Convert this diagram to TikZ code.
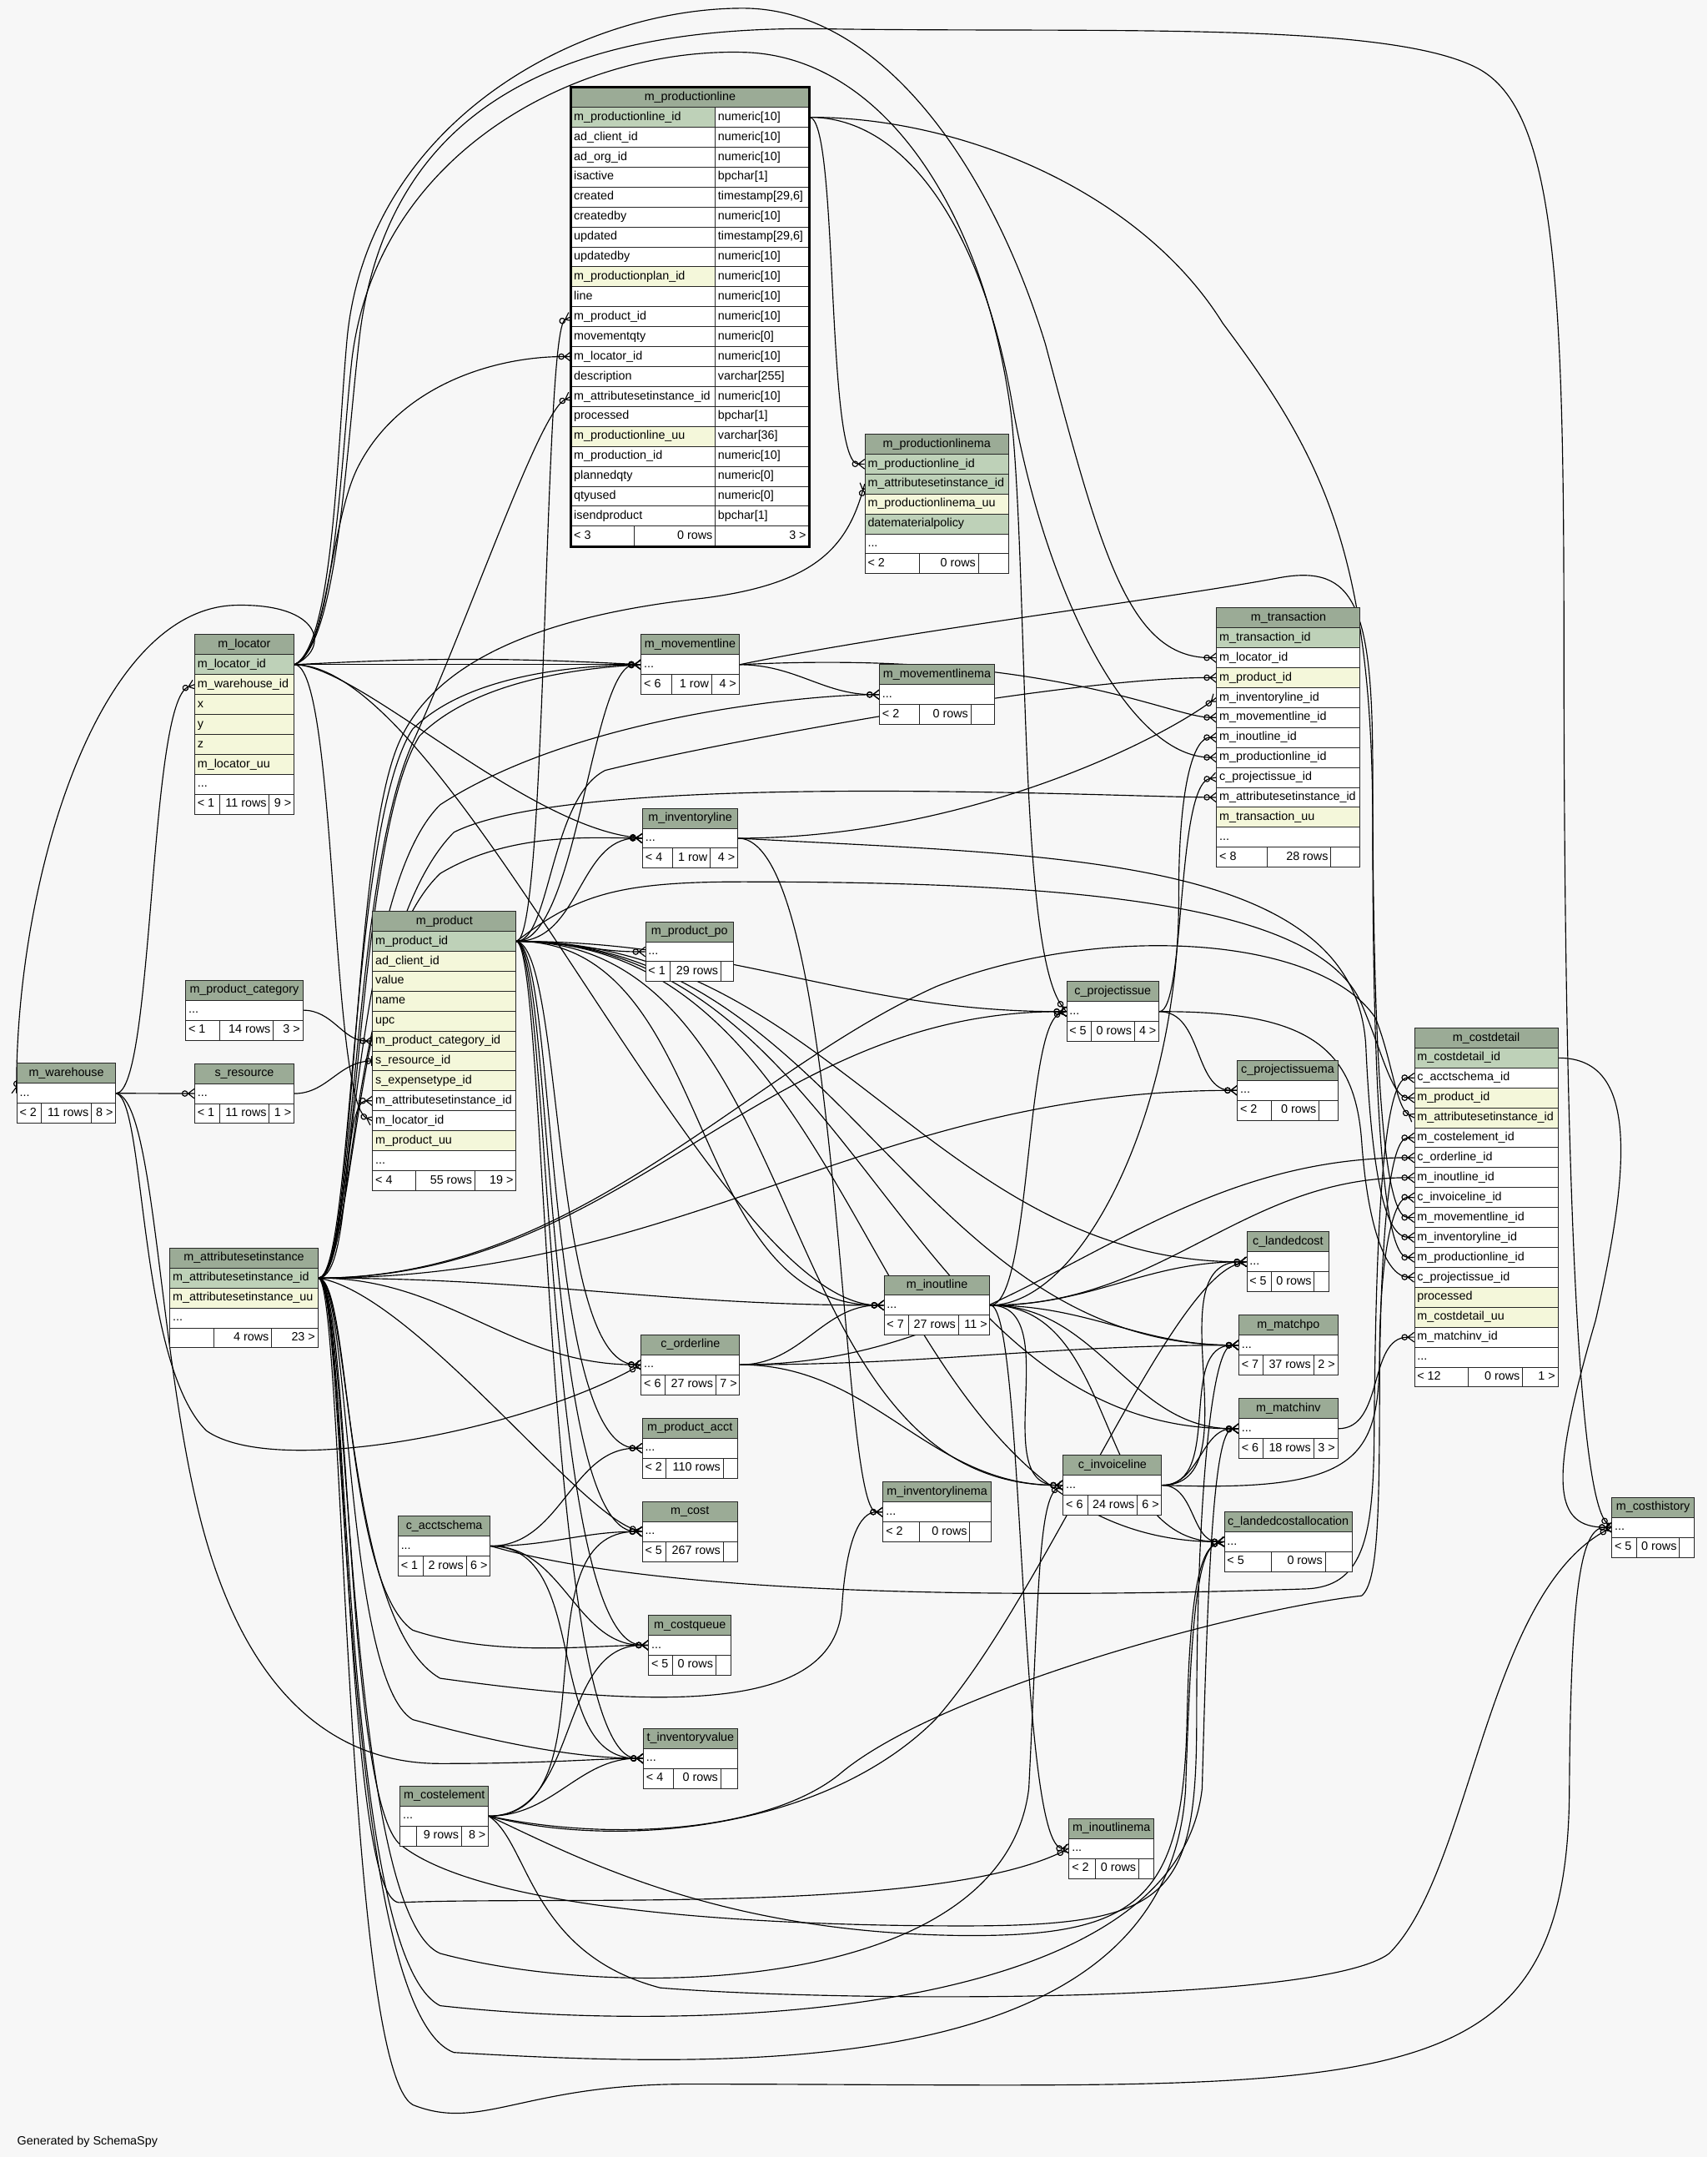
\documentclass[tikz,border=0pt]{standalone}
\usepackage{fontspec}
\setmainfont{Liberation Sans}
\usetikzlibrary{arrows.meta,backgrounds}
\definecolor{bg}{HTML}{F7F7F7}
\definecolor{hdr}{HTML}{9BAB96}
\definecolor{pk}{HTML}{BED1B8}
\definecolor{yl}{HTML}{F4F7DA}
\newcommand\elps{...}

\pgfdeclarearrow{
 name=Crow,
 defaults={length=4.6pt,width=7pt},
 parameters={\the\pgfarrowlength,\the\pgfarrowwidth},
 setup code={
  \pgfarrowssettipend{0pt}
  \pgfarrowssetlineend{-\pgfarrowlength}
  \pgfarrowssetbackend{-\pgfarrowlength}
  \pgfarrowssetvisualbackend{-\pgfarrowlength}
  \pgfarrowshullpoint{0pt}{.5\pgfarrowwidth}
  \pgfarrowshullpoint{0pt}{-.5\pgfarrowwidth}
  \pgfarrowshullpoint{-\pgfarrowlength}{0pt}
  \pgfarrowssavethe\pgfarrowlength
  \pgfarrowssavethe\pgfarrowwidth
 },
 drawing code={
  \pgfpathmoveto{\pgfqpoint{0pt}{.5\pgfarrowwidth}}
  \pgfpathlineto{\pgfqpoint{-\pgfarrowlength}{0pt}}
  \pgfpathlineto{\pgfqpoint{0pt}{-.5\pgfarrowwidth}}
  \pgfpathmoveto{\pgfqpoint{0pt}{0pt}}
  \pgfpathlineto{\pgfqpoint{-\pgfarrowlength}{0pt}}
  \pgfusepathqstroke
 }
}

\newcommand\entity[6]{%
 \pgfmathsetmacro\tw{#4-#3-4}%
 \xdef\fx{#3}\xdef\fr{#4}%
 \node[cell,fill=hdr] (#1) at (#3,#5) {\makebox[\tw pt][c]{#2}};
 \foreach \nm/\cl/\id [count=\rw] in {#6}{
  \node[cell,fill=\cl] (#1\id) at (#3,{#5+\rw*14.5}) {\makebox[\tw pt][l]{\nm}};
  \pgfmathsetmacro\yy{#5+(\rw+1)*14.5}
  \xdef\fy{\yy}
 }
}
\newcommand\tabfoot[6]{%
 \pgfmathsetmacro\wa{#2-\fx-4}%
 \pgfmathsetmacro\wb{#3-#2-4}%
 \pgfmathsetmacro\wc{\fr-#3-4}%
 \node[cell,fill=white] (#1f1) at (\fx,\fy) {\makebox[\wa pt][l]{#4}};
 \node[cell,fill=white] (#1f2) at (#2,\fy) {\makebox[\wb pt][r]{#5}};
 \node[cell,fill=white] (#1f3) at (#3,\fy) {\makebox[\wc pt][r]{#6}};
}

\begin{document}
\begin{tikzpicture}[x=1pt,y=-1pt,font=\fontsize{8.7}{10}\selectfont,
 cell/.style={draw=black!85,line width=0.6pt,anchor=north west,minimum height=14.5pt,inner xsep=2pt,inner ysep=0pt,text height=6.3pt,text depth=1.9pt},
 fk/.style={line width=0.7pt,-{Circle[open,length=4.6pt,width=4.6pt]Crow[length=4.6pt,width=7pt]}},
 fko/.style={line width=0.7pt,-{Circle[open,length=4.6pt,width=4.6pt]Bar[width=7pt]}}]
\useasboundingbox (0,0) rectangle (1241.2,1568);

\node[cell,fill=hdr] (pl) at (415,63.2) {\makebox[168.8pt][c]{m\_productionline}};
\foreach \nm/\ty/\cl/\id [count=\rw] in {m\_productionline\_id/numeric[10]/pk/id,
 ad\_client\_id/numeric[10]/white/cl,
 ad\_org\_id/numeric[10]/white/org,
 isactive/bpchar[1]/white/act,
 created/{timestamp[29,6]}/white/cr,
 createdby/numeric[10]/white/cb,
 updated/{timestamp[29,6]}/white/up,
 updatedby/numeric[10]/white/ub,
 m\_productionplan\_id/numeric[10]/yl/pp,
 line/numeric[10]/white/ln,
 m\_product\_id/numeric[10]/white/prod,
 movementqty/numeric[0]/white/mq,
 m\_locator\_id/numeric[10]/white/loc,
 description/varchar[255]/white/desc,
 m\_attributesetinstance\_id/numeric[10]/white/asi,
 processed/bpchar[1]/white/proc,
 m\_productionline\_uu/varchar[36]/yl/uu,
 m\_production\_id/numeric[10]/white/prn,
 plannedqty/numeric[0]/white/pq,
 qtyused/numeric[0]/white/qu,
 isendproduct/bpchar[1]/white/end}{
 \node[cell,fill=\cl] (pl\id) at (415,{63.2+\rw*14.5}) {\makebox[100.7pt][l]{\nm}};
 \node[cell,fill=white] (plv\id) at (519.7,{63.2+\rw*14.5}) {\makebox[64.1pt][l]{\ty}};
}
\xdef\fx{415}\xdef\fr{587.8}\xdef\fy{382.2}
\tabfoot{pl}{461}{519.7}{< 3}{0 rows}{3 >}
\draw[line width=1.6pt] (pl.north west) rectangle (plf3.south east);

\entity{plma}{m\_productionlinema}{628.6}{733}{315.3}{m\_productionline\_id/pk/pl, m\_attributesetinstance\_id/pk/asi, m\_productionlinema\_uu/yl/uu, datematerialpolicy/pk/dmp, \elps/white/x}
\tabfoot{plma}{668}{711}{< 2}{0 rows}{}
\entity{tr}{m\_transaction}{884.3}{988.6}{441.6}{m\_transaction\_id/pk/id, m\_locator\_id/white/loc, m\_product\_id/yl/prod, m\_inventoryline\_id/white/il, m\_movementline\_id/white/ml, m\_inoutline\_id/white/io, m\_productionline\_id/white/pl, c\_projectissue\_id/white/cpi, m\_attributesetinstance\_id/white/asi, m\_transaction\_uu/yl/uu, \elps/white/x}
\tabfoot{tr}{921.3}{967.3}{< 8}{28 rows}{}
\entity{loc}{m\_locator}{141.3}{213.4}{461.1}{m\_locator\_id/pk/id, m\_warehouse\_id/yl/wh, x/yl/cx, y/yl/cy, z/yl/cz, m\_locator\_uu/yl/uu, \elps/white/x}
\tabfoot{loc}{159.2}{195.5}{< 1}{11 rows}{9 >}
\entity{wh}{m\_warehouse}{12}{83.9}{772.7}{\elps/white/x}
\tabfoot{wh}{29.8}{66.1}{< 2}{11 rows}{8 >}
\entity{ml}{m\_movementline}{465.9}{537}{461.1}{\elps/white/x}
\tabfoot{ml}{487.8}{517.1}{< 6}{1 row}{4 >}
\entity{mlma}{m\_movementlinema}{639.2}{722.7}{482.9}{\elps/white/x}
\tabfoot{mlma}{668.4}{705.6}{< 2}{0 rows}{}
\entity{il}{m\_inventoryline}{467}{536}{587.3}{\elps/white/x}
\tabfoot{il}{488.9}{516}{< 4}{1 row}{4 >}
\entity{pr}{m\_product}{270.7}{374.9}{662.2}{m\_product\_id/pk/id, ad\_client\_id/yl/cl, value/yl/val, name/yl/nm, upc/yl/upc, m\_product\_category\_id/yl/cat, s\_resource\_id/yl/sr, s\_expensetype\_id/yl/et, m\_attributesetinstance\_id/white/asi, m\_locator\_id/white/loc, m\_product\_uu/yl/uu, \elps/white/x}
\tabfoot{pr}{302}{344.9}{< 4}{55 rows}{19 >}
\entity{ppo}{m\_product\_po}{469.1}{533}{669.8}{\elps/white/x}
\tabfoot{ppo}{486.7}{523.8}{< 1}{29 rows}{}
\entity{pc}{m\_product\_category}{134.8}{219.8}{712.3}{\elps/white/x}
\tabfoot{pc}{159.2}{198.4}{< 1}{14 rows}{3 >}
\entity{sr}{s\_resource}{141.3}{213.4}{772.9}{\elps/white/x}
\tabfoot{sr}{159.2}{195.5}{< 1}{11 rows}{1 >}
\entity{asi}{m\_attributesetinstance}{123.3}{230.8}{907}{m\_attributesetinstance\_id/pk/id, m\_attributesetinstance\_uu/yl/uu, \elps/white/x}
\tabfoot{asi}{155}{197.2}{}{4 rows}{23 >}
\entity{cpi}{c\_projectissue}{775.2}{842.3}{713.3}{\elps/white/x}
\tabfoot{cpi}{792.8}{824.5}{< 5}{0 rows}{4 >}
\entity{cpima}{c\_projectissuema}{899.4}{972.3}{770.6}{\elps/white/x}
\tabfoot{cpima}{923.8}{958.7}{< 2}{0 rows}{}
\entity{cd}{m\_costdetail}{1028.1}{1132.4}{747}{m\_costdetail\_id/pk/id, c\_acctschema\_id/white/as, m\_product\_id/yl/prod, m\_attributesetinstance\_id/yl/asi, m\_costelement\_id/white/ce, c\_orderline\_id/white/ol, m\_inoutline\_id/white/io, c\_invoiceline\_id/white/inv, m\_movementline\_id/white/ml, m\_inventoryline\_id/white/il, m\_productionline\_id/white/pl, c\_projectissue\_id/white/cpi, processed/yl/proc, m\_costdetail\_uu/yl/uu, m\_matchinv\_id/white/mi, \elps/white/x}
\tabfoot{cd}{1066.9}{1106.7}{< 12}{0 rows}{1 >}
\entity{io}{m\_inoutline}{642.5}{719.4}{926.8}{\elps/white/x}
\tabfoot{io}{660.3}{696.5}{< 7}{27 rows}{11 >}
\entity{lc}{c\_landedcost}{906.2}{966}{895.2}{\elps/white/x}
\tabfoot{lc}{923.8}{955.2}{< 5}{0 rows}{}
\entity{mpo}{m\_matchpo}{900.4}{972.3}{955.8}{\elps/white/x}
\tabfoot{mpo}{918.2}{954.7}{< 7}{37 rows}{2 >}
\entity{ol}{c\_orderline}{465.9}{537.5}{970}{\elps/white/x}
\tabfoot{ol}{483.3}{520.1}{< 6}{27 rows}{7 >}
\entity{mi}{m\_matchinv}{900.4}{972.3}{1016.5}{\elps/white/x}
\tabfoot{mi}{918.2}{954.7}{< 6}{18 rows}{3 >}
\entity{inv}{c\_invoiceline}{772.7}{844.3}{1057.6}{\elps/white/x}
\tabfoot{inv}{790.6}{826.5}{< 6}{24 rows}{6 >}
\entity{pa}{m\_product\_acct}{466.7}{535.9}{1030.7}{\elps/white/x}
\tabfoot{pa}{484.1}{525.5}{< 2}{110 rows}{}
\entity{ilma}{m\_inventorylinema}{641.8}{720.2}{1077.1}{\elps/white/x}
\tabfoot{ilma}{668.4}{704.8}{< 2}{0 rows}{}
\entity{as}{c\_acctschema}{289.2}{356.1}{1101.8}{\elps/white/x}
\tabfoot{as}{307.4}{338.7}{< 1}{2 rows}{6 >}
\entity{cost}{m\_cost}{466.7}{535.9}{1091.3}{\elps/white/x}
\tabfoot{cost}{484.1}{525.5}{< 5}{267 rows}{}
\entity{lca}{c\_landedcostallocation}{889.9}{982.6}{1098.7}{\elps/white/x}
\tabfoot{lca}{923.8}{963.2}{< 5}{0 rows}{}
\entity{ch}{m\_costhistory}{1171.6}{1231.4}{1088.3}{\elps/white/x}
\tabfoot{ch}{1189.4}{1220.7}{< 5}{0 rows}{}
\entity{cq}{m\_costqueue}{471.3}{531.3}{1173.9}{\elps/white/x}
\tabfoot{cq}{488.7}{520.1}{< 5}{0 rows}{}
\entity{tiv}{t\_inventoryvalue}{467.6}{535.8}{1256.2}{\elps/white/x}
\tabfoot{tiv}{489.2}{523.7}{< 4}{0 rows}{}
\entity{ce}{m\_costelement}{290.7}{354.8}{1298.1}{\elps/white/x}
\tabfoot{ce}{302.8}{335.2}{}{9 rows}{8 >}
\entity{ioma}{m\_inoutlinema}{777}{838.5}{1321.7}{\elps/white/x}
\tabfoot{ioma}{795.9}{827.6}{< 2}{0 rows}{}

\node[anchor=west] (gen) at (9,1557) {Generated by SchemaSpy};

\begin{pgfonlayer}{background}
\fill[bg] (0,0) rectangle (1241.2,1568);
% m_productionline
\draw[fk] (plvid.east) .. controls (610,85) and (600,337) .. (plmapl.west);
\draw[fk] (plvid.east) .. controls (660,85) and (715,170) .. (736,294) .. controls (760,430) and (820,550) .. (trpl.west);
\draw[fk] (plvid.east) .. controls (700,85) and (830,140) .. (889,235) .. controls (960,330) and (998,400) .. (998,600) .. controls (998,850) and (1010,914) .. (cdpl.west);
% m_locator
\draw[fk] (locid.east) .. controls (240,472) and (235,438) .. (170,440) .. controls (70,444) and (12,640) .. (whx.west);
\draw[fk] (locid.east) .. controls (238,475) and (240,380) .. (260,340) .. controls (290,280) and (360,259) .. (plloc.west);
\draw[fk] (locid.east) -- (mlx.west);
\draw[fk] (locid.east) to[bend left=3] (mlx.west);
\draw[fk] (locid.east) .. controls (260,483) and (380,600) .. (ilx.west);
\draw[fk] (locid.east) .. controls (245,483) and (240,800) .. (prloc.west);
\draw[fk] (locid.east) .. controls (330,483) and (520,948) .. (iox.west);
\draw[fk] (locid.east) .. controls (242,470) and (245,330) .. (252,250) .. controls (265,90) and (420,6) .. (540,6) .. controls (640,6) and (720,120) .. (760,250) .. controls (800,400) and (820,478) .. (trloc.west);
\draw[fk] (locid.east) .. controls (244,470) and (248,330) .. (256,260) .. controls (275,110) and (420,35) .. (540,38) .. controls (640,40) and (715,150) .. (735,300) .. controls (748,420) and (740,690) .. (cpix.west);
\draw[fk] (locid.east) .. controls (246,470) and (252,320) .. (262,240) .. controls (285,70) and (420,18) .. (600,21) .. controls (800,24) and (1010,15) .. (1075,50) .. controls (1130,80) and (1137,200) .. (1137,460) .. controls (1137,800) and (1145,1085) .. (chx.west);
% m_warehouse, m_product_category, s_resource
\draw[fk] (whx.east) .. controls (112,794) and (108,510) .. (locwh.west);
\draw[fk] (whx.east) -- (srx.west);
\draw[fk] (whx.east) .. controls (106,800) and (100,990) .. (150,1040) .. controls (200,1075) and (380,1040) .. (olx.west);
\draw[fk] (whx.east) .. controls (114,800) and (115,1000) .. (150,1120) .. controls (185,1240) and (250,1282) .. (320,1282) .. controls (400,1282) and (440,1278) .. (tivx.west);
\draw[fk] (pcx.east) to[out=0,in=180] (prcat.west);
\draw[fko] (srx.east) to[out=0,in=180] (prsr.west);
% m_product
\draw[fk] (prid.east) .. controls (398,684) and (395,240) .. (plprod.west);
\draw[fk] (prid.east) .. controls (420,684) and (430,483) .. (mlx.west);
\draw[fk] (prid.east) to[out=0,in=180] (ilx.west);
\draw[fk] (prid.east) to[out=0,in=180] (ppox.west);
\draw[fk] (prid.east) .. controls (400,684) and (400,580) .. (440,560) .. controls (520,540) and (780,492) .. (trprod.west);
\draw[fk] (prid.east) to[out=0,in=180] (cpix.west);
\draw[fk] (prid.east) .. controls (420,650) and (450,641) .. (540,641) .. controls (800,641) and (960,660) .. (990,730) .. controls (1005,765) and (1012,798) .. (cdprod.west);
\draw[fk] (prid.east) to[out=0,in=180] (iox.west);
\draw[fk] (prid.east) to[out=0,in=180] (lcx.west);
\draw[fk] (prid.east) to[out=0,in=180] (mpox.west);
\draw[fk] (prid.east) to[out=0,in=180] (mix.west);
\draw[fk] (prid.east) to[out=0,in=180] (invx.west);
\draw[fk] (prid.east) to[out=0,in=180] (lcax.west);
\draw[fk] (prid.east) .. controls (410,690) and (400,990) .. (olx.west);
\draw[fk] (prid.east) .. controls (405,690) and (395,1052) .. (pax.west);
\draw[fk] (prid.east) .. controls (402,690) and (395,1113) .. (costx.west);
\draw[fk] (prid.east) .. controls (400,690) and (395,1195) .. (cqx.west);
\draw[fk] (prid.east) .. controls (398,690) and (395,1278) .. (tivx.west);
% m_attributesetinstance
\draw[fk] (asiid.east) .. controls (258,929) and (255,640) .. (300,540) .. controls (345,440) and (392,300) .. (plasi.west);
\draw[fk] (asiid.east) .. controls (258,929) and (255,620) .. (290,540) .. controls (320,470) and (420,445) .. (510,435) .. controls (590,425) and (615,400) .. (plmaasi.west);
\draw[fk] (asiid.east) .. controls (257,929) and (254,600) .. (300,530) .. controls (340,490) and (420,484) .. (mlx.west);
\draw[fk] (asiid.east) .. controls (260,929) and (258,610) .. (305,535) .. controls (345,495) and (420,486) .. (mlx.west);
\draw[fk] (asiid.east) .. controls (258,929) and (254,650) .. (320,585) .. controls (420,520) and (590,505) .. (mlmax.west);
\draw[fk] (asiid.east) .. controls (258,929) and (256,680) .. (330,605) .. controls (420,560) and (800,579) .. (trasi.west);
\draw[fk] (asiid.east) .. controls (258,929) and (252,700) .. (320,635) .. controls (370,605) and (430,609) .. (ilx.west);
\draw[fk] (asiid.east) .. controls (256,929) and (248,800) .. (prasi.west);
\draw[fk] (asiid.east) .. controls (420,929) and (540,780) .. (681,717) .. controls (800,670) and (960,680) .. (1000,740) .. controls (1012,770) and (1015,805) .. (cdasi.west);
\draw[fk] (asiid.east) to[out=0,in=180] (iox.west);
\draw[fk] (asiid.east) to[out=0,in=180] (cpix.west);
\draw[fk] (asiid.east) to[out=0,in=180] (cpimax.west);
\draw[fk] (asiid.east) to[out=0,in=180] (olx.west);
\draw[fk] (asiid.east) .. controls (300,940) and (420,1100) .. (costx.west);
\draw[fk] (asiid.east) .. controls (255,929) and (250,1150) .. (300,1185) .. controls (360,1205) and (430,1196) .. (cqx.west);
\draw[fk] (asiid.east) .. controls (255,929) and (250,1220) .. (300,1250) .. controls (380,1272) and (430,1278) .. (tivx.west);
\draw[fk] (asiid.east) .. controls (255,929) and (250,1180) .. (320,1220) .. controls (500,1245) and (605,1240) .. (612,1170) .. controls (615,1120) and (625,1099) .. (ilmax.west);
\draw[fk] (asiid.east) .. controls (252,929) and (250,1380) .. (290,1383) .. controls (400,1378) and (680,1392) .. (iomax.west);
\draw[fk] (asiid.east) .. controls (255,929) and (250,1300) .. (290,1340) .. controls (350,1390) and (560,1400) .. (700,1400) .. controls (850,1400) and (870,1380) .. (870,1250) .. controls (870,1100) and (880,978) .. (mpox.west);
\draw[fk] (asiid.east) .. controls (255,929) and (250,1390) .. (320,1420) .. controls (450,1455) and (730,1450) .. (748,1300) .. controls (755,1160) and (755,1090) .. (invx.west);
\draw[fk] (asiid.east) .. controls (255,929) and (245,1420) .. (320,1458) .. controls (500,1478) and (855,1470) .. (874,1300) .. controls (878,1150) and (882,1040) .. (mix.west);
\draw[fk] (asiid.east) .. controls (253,929) and (245,1460) .. (330,1492) .. controls (550,1505) and (850,1510) .. (862,1300) .. controls (866,1180) and (870,1125) .. (lcax.west);
\draw[fk] (asiid.east) .. controls (250,929) and (250,1500) .. (300,1530) .. controls (350,1550) and (380,1515) .. (500,1515) .. controls (1000,1515) and (1140,1540) .. (1141,1300) .. controls (1142,1150) and (1150,1110) .. (chx.west);
% m_movementline, m_inventoryline, c_projectissue
\draw[fk] (mlx.east) to[out=0,in=180] (mlmax.west);
\draw[fk] (mlx.east) .. controls (760,472) and (850,521) .. (trml.west);
\draw[fk] (mlx.east) .. controls (650,460) and (850,435) .. (930,420) .. controls (985,410) and (998,440) .. (998,560) .. controls (998,820) and (1010,885) .. (cdml.west);
\draw[fk] (ilx.east) .. controls (700,609) and (840,540) .. (tril.west);
\draw[fk] (ilx.east) .. controls (760,622) and (985,620) .. (993,760) .. controls (998,870) and (1010,899) .. (cdil.west);
\draw[fk] (ilx.east) .. controls (612,609) and (610,1099) .. (ilmax.west);
\draw[fk] (cpix.east) to[out=0,in=180] (cpimax.west);
\draw[fk] (cpix.east) .. controls (862,735) and (855,570) .. (trcpi.west);
\draw[fk] (cpix.east) .. controls (950,735) and (985,760) .. (990,830) .. controls (995,900) and (1010,928) .. (cdcpi.west);
% m_inoutline
\draw[fk] (iox.east) .. controls (790,948) and (858,800) .. (857,650) .. controls (857,570) and (868,536) .. (trio.west);
\draw[fk] (iox.east) to[out=0,in=180] (cdio.west);
\draw[fk] (iox.east) .. controls (750,948) and (745,745) .. (cpix.west);
\draw[fk] (iox.east) to[out=0,in=180] (lcx.west);
\draw[fk] (iox.east) to[out=0,in=180] (mpox.west);
\draw[fk] (iox.east) to[out=0,in=180] (mix.west);
\draw[fk] (iox.east) to[out=0,in=180] (invx.west);
\draw[fk] (iox.east) to[out=0,in=180] (lcax.west);
\draw[fk] (iox.east) .. controls (745,948) and (740,1343) .. (iomax.west);
% c_orderline, c_invoiceline, m_matchinv, m_costdetail
\draw[fk] (olx.east) to[out=0,in=180] (iox.west);
\draw[fk] (olx.east) to[out=0,in=180] (mpox.west);
\draw[fk] (olx.east) to[out=0,in=180] (invx.west);
\draw[fk] (olx.east) to[out=0,in=180] (cdol.west);
\draw[fk] (invx.east) to[out=0,in=180] (lcx.west);
\draw[fk] (invx.east) to[out=0,in=180] (mpox.west);
\draw[fk] (invx.east) to[out=0,in=180] (mix.west);
\draw[fk] (invx.east) to[out=0,in=180] (lcax.west);
\draw[fk] (invx.east) .. controls (990,1085) and (1003,1060) .. (1003,980) .. controls (1004,900) and (1015,870) .. (cdinv.west);
\draw[fk] (mix.east) to[out=0,in=180] (cdmi.west);
\draw[fk] (cdid.east) .. controls (1185,769) and (1190,830) .. (1160,960) .. controls (1125,1080) and (1130,1110) .. (chx.west);
% c_acctschema
\draw[fk] (asx.east) to[out=0,in=180] (pax.west);
\draw[fk] (asx.east) to[out=0,in=180] (costx.west);
\draw[fk] (asx.east) to[out=0,in=180] (cqx.west);
\draw[fk] (asx.east) to[out=0,in=180] (tivx.west);
\draw[fk] (asx.east) .. controls (500,1165) and (800,1160) .. (950,1155) .. controls (990,1153) and (998,1120) .. (999,1050) .. controls (1000,900) and (1005,783) .. (cdas.west);
% m_costelement
\draw[fk] (cex.east) to[out=0,in=180] (costx.west);
\draw[fk] (cex.east) to[out=0,in=180] (cqx.west);
\draw[fk] (cex.east) to[out=0,in=180] (tivx.west);
\draw[fk] (cex.east) .. controls (450,1340) and (560,1330) .. (610,1290) .. controls (680,1230) and (900,1170) .. (990,1160) .. controls (1002,1150) and (1003,1100) .. (1003,1000) .. controls (1004,900) and (1010,827) .. (cdce.west);
\draw[fk] (cex.east) .. controls (450,1345) and (600,1330) .. (680,1250) .. controls (760,1160) and (850,930) .. (lcx.west);
\draw[fk] (cex.east) .. controls (420,1350) and (520,1405) .. (700,1407) .. controls (830,1408) and (860,1380) .. (863,1250) .. controls (865,1160) and (872,1125) .. (lcax.west);
\draw[fk] (cex.east) .. controls (385,1340) and (385,1420) .. (480,1445) .. controls (600,1455) and (960,1458) .. (1010,1420) .. controls (1070,1360) and (1080,1160) .. (chx.west);
\end{pgfonlayer}
\end{tikzpicture}
\end{document}
